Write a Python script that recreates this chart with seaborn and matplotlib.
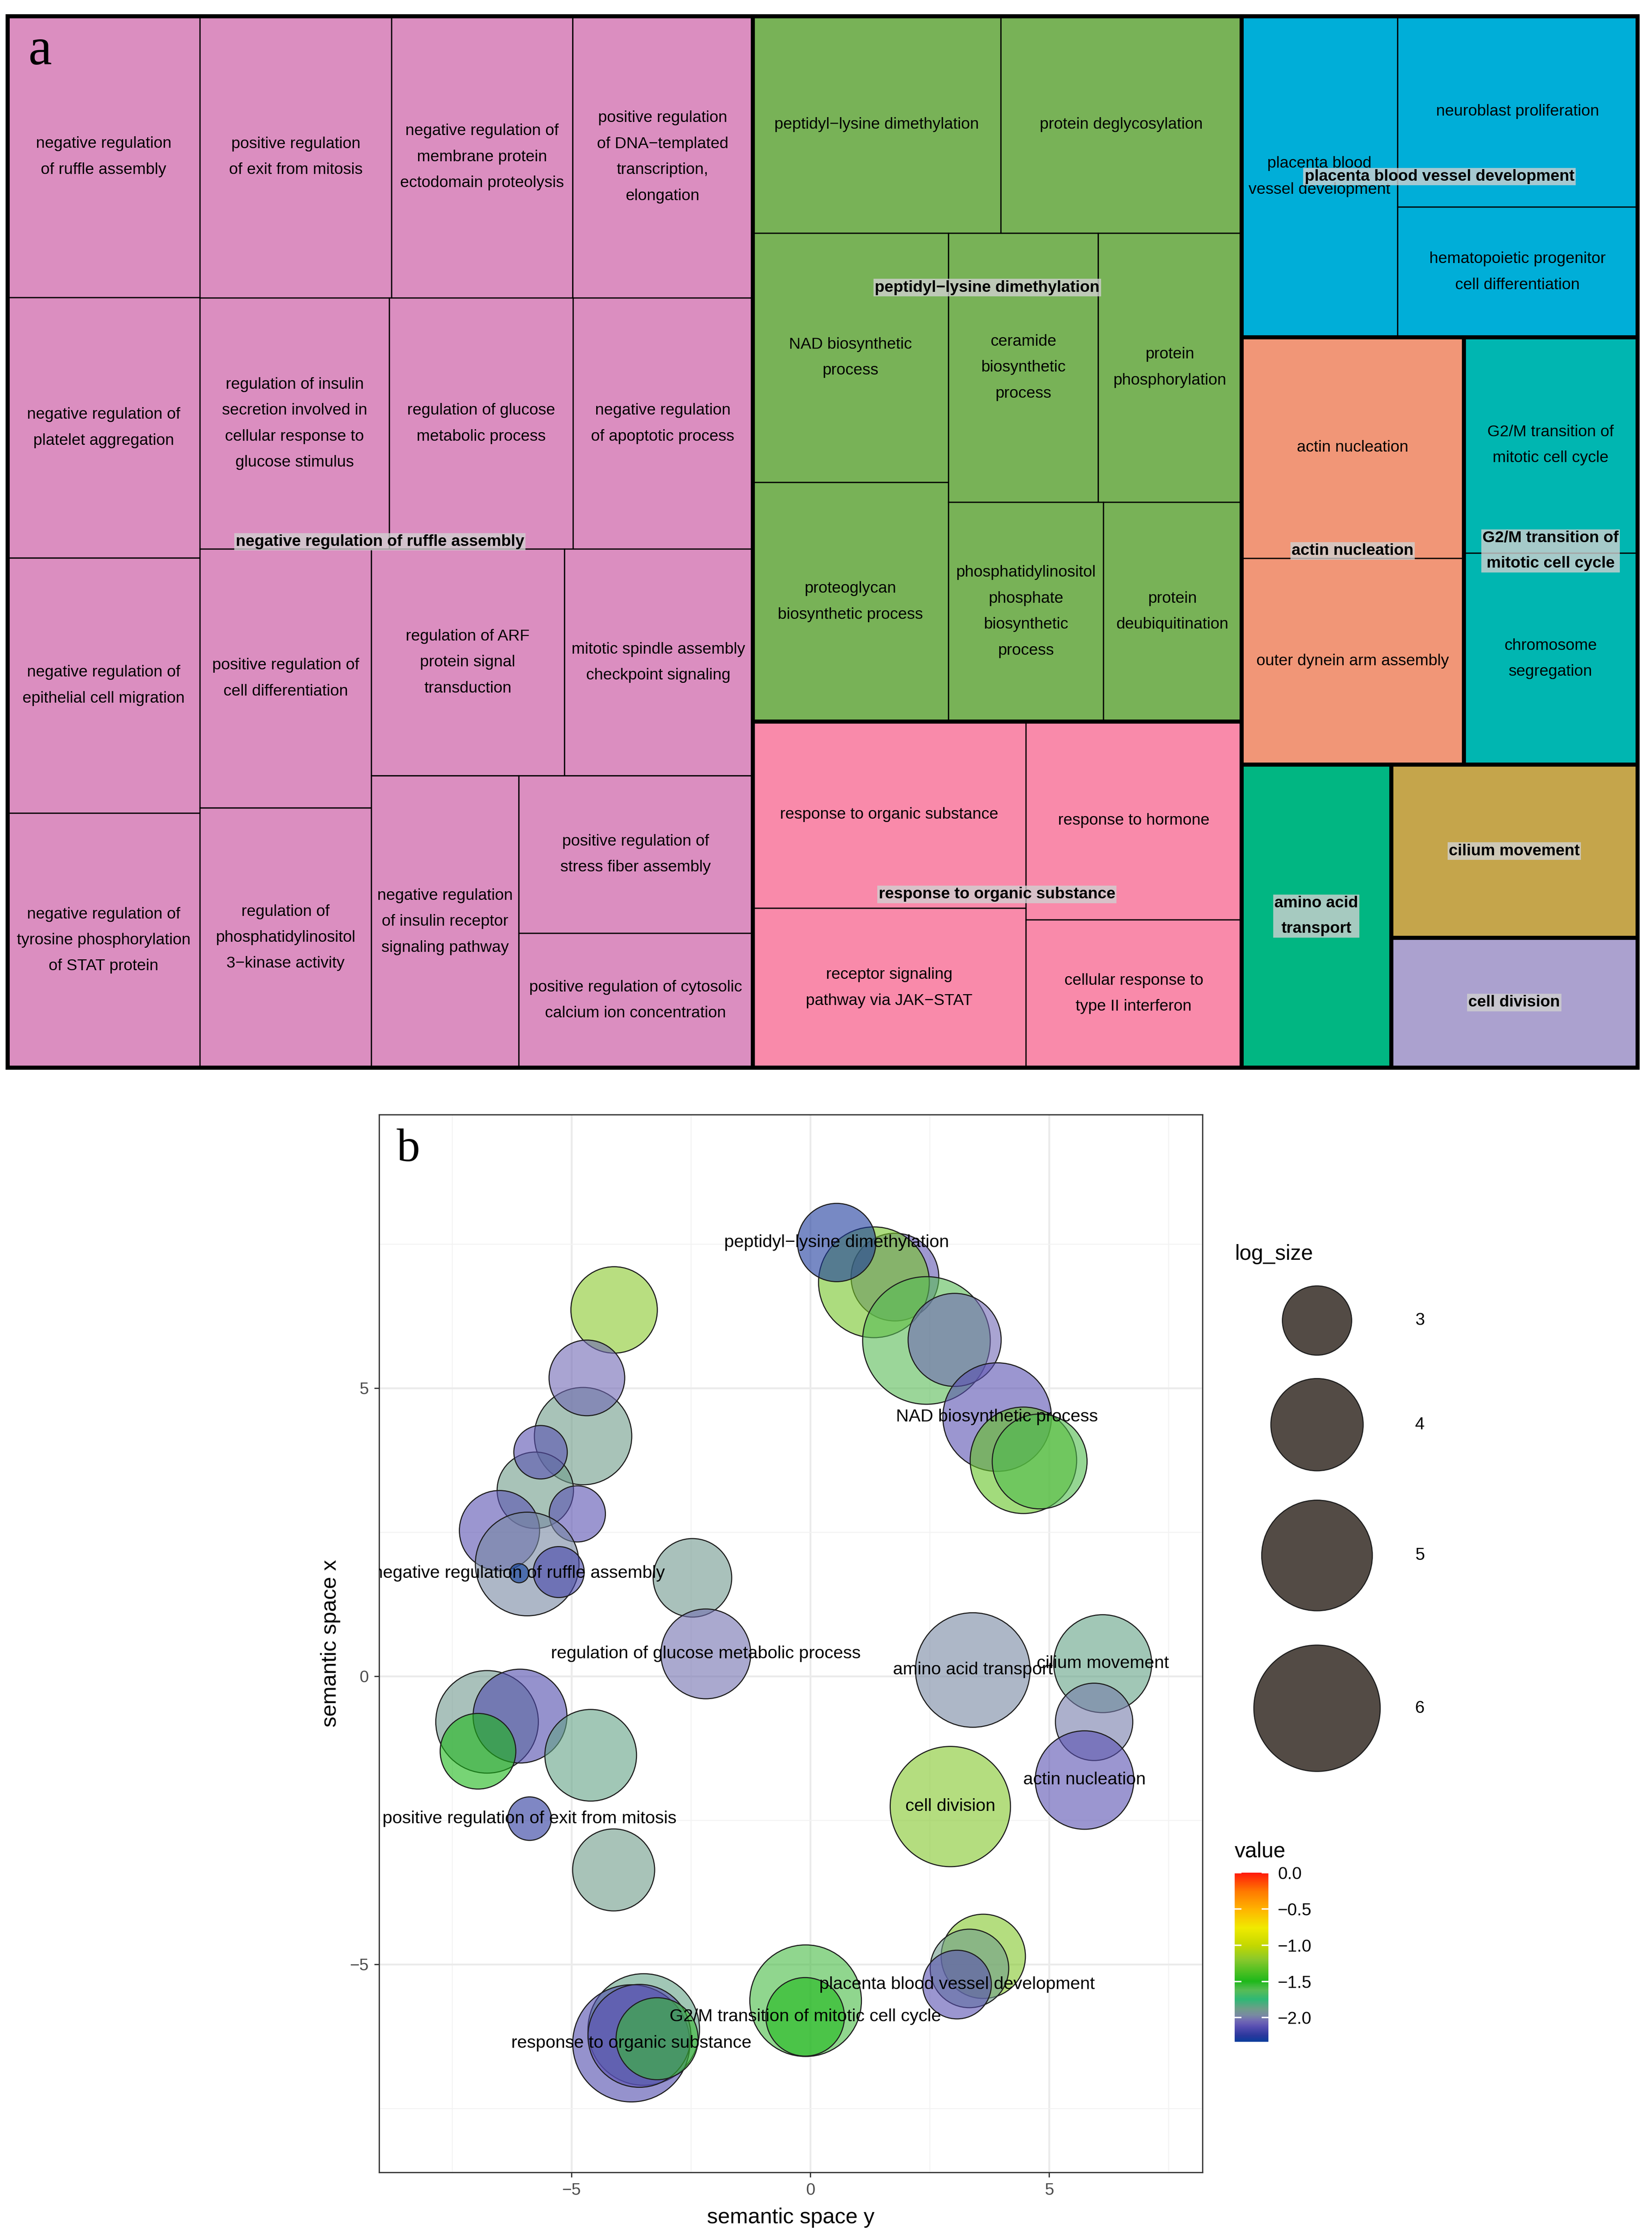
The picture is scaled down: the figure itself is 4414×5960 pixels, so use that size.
"""
Treemap of reduced GO terms (a) and semantic similarity scatter (b)
"""
import matplotlib
matplotlib.use('Agg')
import numpy as np
import pandas as pd
import matplotlib.pyplot as plt
import seaborn as sns
from matplotlib.patches import Rectangle
from matplotlib.colors import LinearSegmentedColormap, Normalize
from matplotlib.cm import ScalarMappable
from matplotlib.ticker import FixedLocator

## Treemap data
terms = [
    'negative regulation\nof ruffle assembly',
    'negative regulation of\nplatelet aggregation',
    'negative regulation of\nepithelial cell migration',
    'negative regulation of\ntyrosine phosphorylation\nof STAT protein',
    'positive regulation\nof exit from mitosis',
    'negative regulation of\nmembrane protein\nectodomain proteolysis',
    'positive regulation\nof DNA\u2212templated\ntranscription,\nelongation',
    'regulation of insulin\nsecretion involved in\ncellular response to\nglucose stimulus',
    'regulation of glucose\nmetabolic process',
    'negative regulation\nof apoptotic process',
    'positive regulation of\ncell differentiation',
    'regulation of\nphosphatidylinositol\n3\u2212kinase activity',
    'regulation of ARF\nprotein signal\ntransduction',
    'mitotic spindle assembly\ncheckpoint signaling',
    'negative regulation\nof insulin receptor\nsignaling pathway',
    'positive regulation of\nstress fiber assembly',
    'positive regulation of cytosolic\ncalcium ion concentration',
    'peptidyl\u2212lysine dimethylation',
    'protein deglycosylation',
    'NAD biosynthetic\nprocess',
    'proteoglycan\nbiosynthetic process',
    'ceramide\nbiosynthetic\nprocess',
    'protein\nphosphorylation',
    'phosphatidylinositol\nphosphate\nbiosynthetic\nprocess',
    'protein\ndeubiquitination',
    'response to organic substance',
    'receptor signaling\npathway via JAK\u2212STAT',
    'response to hormone',
    'cellular response to\ntype II interferon',
    'placenta blood\nvessel development',
    'neuroblast proliferation',
    'hematopoietic progenitor\ncell differentiation',
    'actin nucleation',
    'outer dynein arm assembly',
    'G2/M transition of\nmitotic cell cycle',
    'chromosome\nsegregation',
    'amino acid transport',
    'cilium movement',
    'cell division',
]
term_size = [386, 357, 350, 349, 385, 364, 361, 339, 329, 321, 316, 317, 312, 304,
             307, 262, 224, 384, 372, 348, 334, 287, 275, 242, 216, 364, 311, 305,
             227, 357, 326, 223, 350, 327, 267, 262, 323, 304, 228]
term_group = [0] * 17 + [1] * 8 + [2] * 4 + [3] * 3 + [4] * 2 + [5] * 2 + [6, 7, 8]

group_names = [
    'negative regulation of ruffle assembly',
    'peptidyl\u2212lysine dimethylation',
    'response to organic substance',
    'placenta blood vessel development',
    'actin nucleation',
    'G2/M transition of\nmitotic cell cycle',
    'amino acid\ntransport',
    'cilium movement',
    'cell division',
]
group_colors = ['#DB8EC0', '#78B257', '#F98AAA', '#00AED8', '#F19677',
                '#00B6B1', '#01B682', '#C5A54B', '#ABA1CF']

# nesting of the tiles: 'h' = side by side, 'v' = stacked
tile_layout = ('h', [
    ('h', [('v', [0, 1, 2, 3]),
           ('v', [('h', [4, 5, 6]),
                  ('h', [7, 8, 9]),
                  ('h', [('v', [10, 11]),
                         ('v', [('h', [12, 13]),
                                ('h', [14, ('v', [15, 16])])])])])]),
    ('v', [('v', [('h', [17, 18]),
                  ('h', [('v', [19, 20]),
                         ('v', [('h', [21, 22]), ('h', [23, 24])])])]),
           ('h', [('v', [25, 26]), ('v', [27, 28])])]),
    ('v', [('h', [29, ('v', [30, 31])]),
           ('h', [('v', [32, 33]), ('v', [34, 35])]),
           ('h', [36, ('v', [37, 38])])]),
])

## Scatter data (horizontal = semantic space y, vertical = semantic space x)
sem_y = [1.77, 1.33, 0.55, 2.43, 3.02, 3.91, 4.46, 4.80,
         -4.11, -4.76, -4.68, -5.76, -5.65, -4.88, -6.51, -5.93, -6.10, -5.27, -2.47, -2.19,
         -6.77, -6.08, -6.96, -4.60, -5.88, -4.12,
         3.40, 6.12, 5.94, 5.74, 2.93,
         3.62, 3.33, 3.07, -0.10, -0.11,
         -3.49, -3.75, -3.58, -3.21]
sem_x = [6.93, 6.84, 7.53, 5.83, 5.84, 4.50, 3.75, 3.73,
         6.36, 4.17, 5.18, 3.23, 3.89, 2.82, 2.53, 1.95, 1.79, 1.81, 1.71, 0.39,
         -0.79, -0.69, -1.30, -1.37, -2.47, -3.36,
         0.11, 0.22, -0.79, -1.80, -2.26,
         -4.86, -5.07, -5.35, -5.63, -5.91,
         -6.13, -6.37, -6.24, -6.29]
log_size = [3.78, 5.01, 3.36, 6.09, 4.04, 4.88, 4.76, 4.13,
            3.72, 4.26, 3.25, 3.28, 2.48, 2.56, 3.44, 4.60, 1.81, 2.41, 3.37, 3.88,
            4.54, 4.08, 3.25, 3.97, 2.22, 3.52,
            5.24, 4.29, 3.32, 4.32, 5.60,
            3.62, 3.37, 2.98, 5.06, 3.37,
            5.06, 5.40, 4.56, 3.52]
value = [-2.10, -1.25, -2.28, -1.62, -2.05, -2.12, -1.30, -1.60,
         -1.20, -1.88, -2.05, -1.88, -2.12, -2.12, -2.12, -1.97, -2.33, -2.17, -1.90, -2.03,
         -1.90, -2.15, -1.50, -1.85, -2.25, -1.88,
         -1.97, -1.85, -2.00, -2.12, -1.22,
         -1.22, -1.88, -2.12, -1.58, -1.50,
         -1.85, -2.15, -2.12, -1.55]
point_label = ['', '', 'peptidyl\u2212lysine dimethylation', '', '', 'NAD biosynthetic process', '', '',
               '', '', '', '', '', '', '', '', 'negative regulation of ruffle assembly', '', '',
               'regulation of glucose metabolic process',
               '', '', '', '', 'positive regulation of exit from mitosis', '',
               'amino acid transport', 'cilium movement', '', 'actin nucleation', 'cell division',
               '', '', 'placenta blood vessel development', '', 'G2/M transition of mitotic cell cycle',
               '', 'response to organic substance', '', '']

legend_sizes = [3, 4, 5, 6]
value_ticks = [0.0, -0.5, -1.0, -1.5, -2.0]
value_range = (-2.333, 0.0)
size_key = (1971, 6561)  # marker area (pt^2) for log_size 3 and 6

# colour ramp of the value scale
ramp_values = [-2.333, -2.25, -2.12, -2.05, -1.97, -1.88, -1.75, -1.62, -1.5,
               -1.2, -1.0, -0.76, -0.5, -0.25, 0.0]
ramp_colors = ['#0a3d9c', '#2a379d', '#5a50b2', '#7068b4', '#788aa2', '#6e9d89',
               '#2fb875', '#58bc55', '#1db81a', '#89c82b', '#c4d800', '#f0ea00',
               '#ffb300', '#ff7800', '#ff1a0a']

W, H = 4414, 5960
DPI = 300


def fx(x):
    return x / W


def fy(y):
    return 1 - y / H


def marker_area(v):
    """area scale is linear in log_size, through the legend keys"""
    return size_key[0] + (v - 3) / 3 * (size_key[1] - size_key[0])


def node_size(node):
    if isinstance(node, int):
        return term_size[node]
    return sum(node_size(k) for k in node[1])


def split(node, x0, y0, x1, y1, out):
    if isinstance(node, int):
        out[node] = (x0, y0, x1, y1)
        return
    direction, kids = node
    tot = node_size(node)
    pos = x0 if direction == 'h' else y0
    for k in kids:
        frac = node_size(k) / tot
        if direction == 'h':
            w = (x1 - x0) * frac
            split(k, pos, y0, pos + w, y1, out)
            pos += w
        else:
            h = (y1 - y0) * frac
            split(k, x0, pos, x1, pos + h, out)
            pos += h


plt.rcParams['font.family'] = ['Liberation Sans', 'DejaVu Sans']
fig = plt.figure(figsize=(W / DPI, H / DPI), dpi=DPI)

## (a) treemap
ax_tm = fig.add_axes([fx(20), fy(2853), 4355 / W, 2810 / H])
ax_tm.set_xlim(0, 1)
ax_tm.set_ylim(1, 0)
ax_tm.axis('off')

rects = {}
split(tile_layout, 0, 0, 1, 1, rects)
n_in_group = pd.Series(term_group).value_counts()

for i, (x0, y0, x1, y1) in rects.items():
    g = term_group[i]
    ax_tm.add_patch(Rectangle((x0, y0), x1 - x0, y1 - y0, fc=group_colors[g],
                              ec='black', lw=0.8, clip_on=False))
    if n_in_group[g] > 1:
        ax_tm.text((x0 + x1) / 2, (y0 + y1) / 2, terms[i], ha='center', va='center',
                   fontsize=10.3, linespacing=1.95, color='black')

label_anchor = {1: (0.48, 0.385)}
for g, name in enumerate(group_names):
    boxes = np.array([rects[i] for i in rects if term_group[i] == g])
    gx0, gy0 = boxes[:, 0].min(), boxes[:, 1].min()
    gx1, gy1 = boxes[:, 2].max(), boxes[:, 3].max()
    ax_tm.add_patch(Rectangle((gx0, gy0), gx1 - gx0, gy1 - gy0, fill=False,
                              ec='black', lw=2.6, clip_on=False, zorder=3))
    ax_f, ay_f = label_anchor.get(g, (0.5, 0.5))
    ax_tm.text(gx0 + ax_f * (gx1 - gx0), gy0 + ay_f * (gy1 - gy0), name,
               ha='center', va='center', fontsize=10.3, fontweight='bold',
               linespacing=1.9, zorder=4,
               bbox=dict(boxstyle='square,pad=0.08', fc='#d0d0d0', ec='none', alpha=0.8))
ax_tm.add_patch(Rectangle((0, 0), 1, 1, fill=False, ec='black', lw=2.6,
                          clip_on=False, zorder=5))

## (b) scatter
df = pd.DataFrame({'sem_y': sem_y, 'sem_x': sem_x, 'log_size': log_size,
                   'value': value, 'label': point_label})
cmap = LinearSegmentedColormap.from_list(
    'value_ramp',
    [((v - value_range[0]) / (value_range[1] - value_range[0]), c)
     for v, c in zip(ramp_values, ramp_colors)])
norm = Normalize(*value_range)

size_lims = (1.75, 6.5)
ax = fig.add_axes([fx(1013), fy(5806), 2200 / W, 2827 / H])
sns.scatterplot(data=df, x='sem_y', y='sem_x', hue='value', palette=cmap, hue_norm=norm,
                size='log_size', size_norm=size_lims,
                sizes=(marker_area(size_lims[0]), marker_area(size_lims[1])), legend=False,
                edgecolor='#1f1f1f', linewidth=0.7, ax=ax, zorder=3)
coll = ax.collections[0]
fc = coll.get_facecolors().copy()
fc[:, 3] = 0.6
coll.set_facecolors(fc)

for _, row in df[df.label != ''].iterrows():
    ax.text(row.sem_y, row.sem_x, row.label, ha='center', va='center',
            fontsize=11.3, color='black', clip_on=True, zorder=5)

ax.set_xlim(-9.03, 8.21)
ax.set_ylim(-8.61, 9.75)
for axis in (ax.xaxis, ax.yaxis):
    axis.set_major_locator(FixedLocator([-5, 0, 5]))
    axis.set_minor_locator(FixedLocator([-7.5, -2.5, 2.5, 7.5]))
ax.grid(which='major', color='#ebebeb', lw=1.2, zorder=0)
ax.grid(which='minor', color='#f2f2f2', lw=0.6, zorder=0)
ax.set_axisbelow(True)
ax.tick_params(which='major', length=3.1, width=0.8, color='#333333',
               labelsize=10.7, labelcolor='#4d4d4d', pad=3.5)
ax.tick_params(which='minor', length=0)
for sp in ax.spines.values():
    sp.set_color('#333333')
    sp.set_linewidth(0.8)
ax.set_xlabel('semantic space y', fontsize=13.9, labelpad=6)
ax.set_ylabel('semantic space x', fontsize=13.9, labelpad=6)

## size legend
ax_leg = fig.add_axes([fx(3250), fy(4850), 850 / W, 1550 / H])
ax_leg.set_xlim(3250, 4100)
ax_leg.set_ylim(4850, 3300)
ax_leg.axis('off')
key_s = [marker_area(v) for v in legend_sizes]
key_d = [np.sqrt(s) * DPI / 72 for s in key_s]
key_y, top = [], 3410
for d in key_d:
    key_y.append(top + 1.29 * d / 2)
    top += 1.29 * d
ax_leg.scatter([3519] * len(key_s), key_y, s=key_s, c='#534b45', edgecolors='#1f1f1f',
               linewidths=0.7, clip_on=False)
for v, y in zip(legend_sizes, key_y):
    ax_leg.text(3781, y, str(v), ha='left', va='center', fontsize=11)
ax_leg.text(3299, 3352, 'log_size', ha='left', va='center', fontsize=13.7)

## colour bar
cax = fig.add_axes([fx(3299), fy(5457), 90 / W, 452 / H])
cb = fig.colorbar(ScalarMappable(norm=norm, cmap=cmap), cax=cax)
cb.outline.set_visible(False)
cb.set_ticks(value_ticks)
cb.set_ticklabels([f'{t:.1f}'.replace('-', '\u2212') for t in value_ticks])
cax.tick_params(which='both', direction='in', left=True, right=True, length=4.3,
                width=0.9, color='white', labelsize=11, pad=6)
cax.minorticks_off()
fig.text(fx(3299), fy(4948), 'value', ha='left', va='center', fontsize=13.7)

## panel letters
fig.text(fx(76), fy(172), 'a', ha='left', va='baseline', fontsize=34,
         family='Liberation Serif')
fig.text(fx(1060), fy(3103), 'b', ha='left', va='baseline', fontsize=30,
         family='Liberation Serif')

fig.savefig('out.png', dpi=DPI)
